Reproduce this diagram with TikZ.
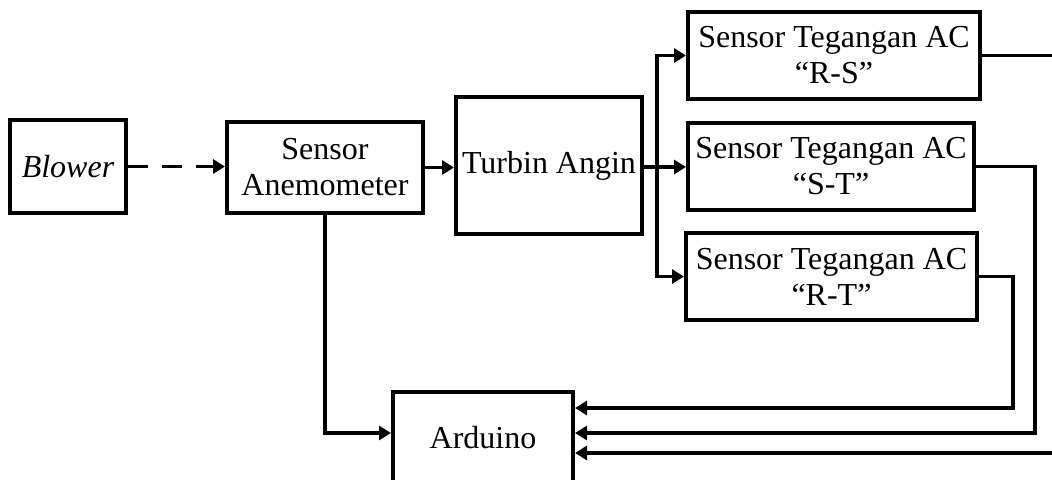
\documentclass[tikz,border=0pt]{standalone}
\usepackage{fontspec}
\setmainfont{Liberation Serif}
\usepackage{tikz}
\usetikzlibrary{arrows.meta,positioning}

\begin{document}
\begin{tikzpicture}[x=0.5pt, y=-0.5pt,
		blok/.style={draw, line width=2pt, align=center, inner sep=1pt,
			font=\fontsize{16}{18}\selectfont},
		panah/.style={line width=1.8pt, -{Triangle[length=6pt, width=7pt]}}]
	\useasboundingbox (0,0) rectangle (1052,479);
	
	% Blocks
	\node[blok, minimum width=58pt, minimum height=46.5pt] (blower) at (68,166.5) {\itshape Blower};
	\node[blok, minimum width=98pt, minimum height=45.5pt] (anemo) at (325,167.5) {Sensor\\Anemometer};
	\node[blok, minimum width=93pt, minimum height=68.5pt] (turbin) at (549,165.5) {Turbin Angin};
	\node[blok, minimum width=146pt, minimum height=43.5pt] (rs) at (834,55.5) {Sensor Tegangan AC\\“R-S”};
	\node[blok, minimum width=143pt, minimum height=43.5pt] (st) at (831,166.5) {Sensor Tegangan AC\\“S-T”};
	\node[blok, minimum width=145.5pt, minimum height=43.5pt] (rt) at (831.5,276.5) {Sensor Tegangan AC\\“R-T”};
	\node[blok, minimum width=90pt, minimum height=46pt] (arduino) at (483,438) {Arduino};
	
	% Turning points
	\coordinate (split) at (657,167);
	\coordinate (rtbus) at (1013,408);
	\coordinate (stbus) at (1035,433);
	\coordinate (rsbus) at (1070,453);
	
	% Wind path
	\draw[panah, dash pattern=on 10pt off 7pt] (blower.east) -- (blower.east -| anemo.west);
	\draw[panah] (anemo.east) -- (anemo.east -| turbin.west);
	\draw[line width=1.8pt] (turbin.east |- split) -- (split);
	\draw[panah] (split) |- (rs.west);
	\draw[panah] (split) -- (split -| st.west);
	\draw[panah] (split) |- (rt.west);
	
	% Signals to Arduino
	\draw[panah] (anemo.south) |- (arduino.west |- stbus);
	\draw[panah] (rt.east) -| (rtbus) -- (arduino.east |- rtbus);
	\draw[panah] (st.east) -| (stbus) -- (arduino.east |- stbus);
	\draw[panah] (rs.east) -| (rsbus) -- (arduino.east |- rsbus);
\end{tikzpicture}
\end{document}
